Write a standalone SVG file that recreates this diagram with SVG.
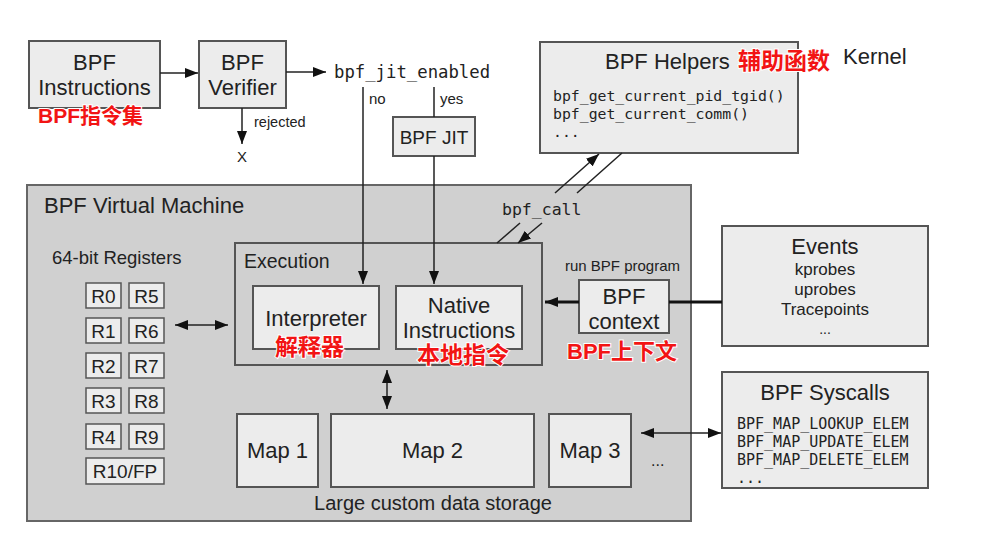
<svg xmlns="http://www.w3.org/2000/svg" width="984" height="554" viewBox="0 0 984 554">
<defs>
<marker id="ah" markerWidth="13" markerHeight="10" refX="13" refY="5" orient="auto-start-reverse" markerUnits="userSpaceOnUse">
<path d="M0,0 L13,5 L0,10 z" fill="#111"/>
</marker>
<style>
.box{fill:#ececec;stroke:#555;stroke-width:2}
.reg{fill:#ececec;stroke:#555;stroke-width:1.5}
.vm{fill:#d0d0d0;stroke:#666;stroke-width:2}
.t{font-family:"Liberation Sans",Arial,sans-serif;fill:#222}
.c{text-anchor:middle}
.m{font-family:"DejaVu Sans Mono","Liberation Mono",monospace;fill:#222}
.red{font-family:"Liberation Sans","Noto Sans CJK SC",sans-serif;fill:#f21414;font-weight:bold;stroke:#fff;stroke-width:2;paint-order:stroke}
.ln{stroke:#222;stroke-width:1.5;fill:none}
.thick{stroke:#111;stroke-width:3;fill:none}
.arr{marker-end:url(#ah)}
.dbl{marker-start:url(#ah);marker-end:url(#ah)}
</style>
</defs>
<rect width="984" height="554" fill="#fff"/>

<g id="vm">
<rect class="vm" x="27" y="185" width="664" height="336"/>
<text class="t" x="44" y="213" font-size="22">BPF Virtual Machine</text>
<text class="t" x="433" y="510" font-size="20" text-anchor="middle">Large custom data storage</text>
</g>

<g id="instructions">
<rect class="box" x="29" y="41" width="131" height="67"/>
<text class="t c" x="94.5" y="70" font-size="22">BPF</text>
<text class="t c" x="94.5" y="95" font-size="22">Instructions</text>
<text class="red" x="38" y="123" font-size="21">BPF指令集</text>
</g>

<g id="verifier">
<rect class="box" x="199" y="41" width="87" height="67"/>
<text class="t c" x="242.5" y="70" font-size="22">BPF</text>
<text class="t c" x="242.5" y="95" font-size="22">Verifier</text>
</g>

<g id="jit-enabled">
<text class="m" x="334" y="78" font-size="17.3">bpf_jit_enabled</text>
</g>

<g id="reject">
<text class="t c" x="242" y="162" font-size="15">X</text>
</g>

<g id="jit">
<rect class="box" x="393" y="117" width="82" height="39"/>
<text class="t c" x="434" y="144" font-size="19">BPF JIT</text>
</g>

<g id="helpers">
<rect class="box" x="540" y="42" width="258" height="111"/>
<text class="t" x="605" y="69" font-size="22">BPF Helpers</text>
<text class="red" x="738" y="69" font-size="23">辅助函数</text>
<text class="m" x="553" y="101" font-size="14.8">bpf_get_current_pid_tgid()</text>
<text class="m" x="553" y="119" font-size="14.8">bpf_get_current_comm()</text>
<text class="m" x="553" y="137" font-size="14.8">...</text>
</g>

<g id="kernel">
<text class="t" x="843" y="64" font-size="22">Kernel</text>
</g>

<g id="registers">
<text class="t" x="52" y="264" font-size="18.5">64-bit Registers</text>
<rect class="reg" x="86" y="283" width="35" height="25"/>
<text class="t c" x="103.5" y="303" font-size="19">R0</text>
<rect class="reg" x="129" y="283" width="35" height="25"/>
<text class="t c" x="146.5" y="303" font-size="19">R5</text>
<rect class="reg" x="86" y="318" width="35" height="25"/>
<text class="t c" x="103.5" y="338" font-size="19">R1</text>
<rect class="reg" x="129" y="318" width="35" height="25"/>
<text class="t c" x="146.5" y="338" font-size="19">R6</text>
<rect class="reg" x="86" y="353" width="35" height="25"/>
<text class="t c" x="103.5" y="373" font-size="19">R2</text>
<rect class="reg" x="129" y="353" width="35" height="25"/>
<text class="t c" x="146.5" y="373" font-size="19">R7</text>
<rect class="reg" x="86" y="388" width="35" height="25"/>
<text class="t c" x="103.5" y="408" font-size="19">R3</text>
<rect class="reg" x="129" y="388" width="35" height="25"/>
<text class="t c" x="146.5" y="408" font-size="19">R8</text>
<rect class="reg" x="86" y="424" width="35" height="25"/>
<text class="t c" x="103.5" y="444" font-size="19">R4</text>
<rect class="reg" x="129" y="424" width="35" height="25"/>
<text class="t c" x="146.5" y="444" font-size="19">R9</text>
<rect class="reg" x="86" y="458" width="78" height="26"/>
<text class="t c" x="125" y="478" font-size="19">R10/FP</text>
</g>

<g id="execution">
<rect x="235" y="243" width="307" height="122" fill="none" stroke="#555" stroke-width="2"/>
<text class="t" x="244" y="268" font-size="19.5">Execution</text>
</g>

<g id="interpreter">
<rect class="box" x="253" y="286" width="126" height="63"/>
<text class="t c" x="316" y="326" font-size="22">Interpreter</text>
<text class="red" x="275" y="355" font-size="23">解释器</text>
</g>

<g id="native">
<rect class="box" x="396" y="286" width="126" height="63"/>
<text class="t c" x="459" y="313" font-size="22">Native</text>
<text class="t c" x="459" y="338" font-size="22">Instructions</text>
<text class="red" x="417" y="363" font-size="23">本地指令</text>
</g>

<g id="context">
<text class="t" x="565" y="271" font-size="15">run BPF program</text>
<rect class="box" x="579" y="280" width="90" height="53"/>
<text class="t c" x="624" y="304" font-size="22">BPF</text>
<text class="t c" x="624" y="329" font-size="22">context</text>
<text class="red" x="567" y="359" font-size="22">BPF上下文</text>
</g>

<g id="events">
<rect class="box" x="722" y="226" width="206" height="120"/>
<text class="t c" x="825" y="254" font-size="22">Events</text>
<text class="t c" x="825" y="275" font-size="17">kprobes</text>
<text class="t c" x="825" y="295" font-size="17">uprobes</text>
<text class="t c" x="825" y="315" font-size="17">Tracepoints</text>
<text class="t c" x="825" y="334" font-size="14">...</text>
</g>

<g id="syscalls">
<rect class="box" x="722" y="372" width="206" height="116"/>
<text class="t c" x="825" y="400" font-size="22">BPF Syscalls</text>
<text class="m" x="737" y="429" font-size="15" fill="#333">BPF_MAP_LOOKUP_ELEM</text>
<text class="m" x="737" y="447" font-size="15" fill="#333">BPF_MAP_UPDATE_ELEM</text>
<text class="m" x="737" y="465" font-size="15" fill="#333">BPF_MAP_DELETE_ELEM</text>
<text class="m" x="737" y="483" font-size="15">...</text>
</g>

<g id="maps">
<rect class="box" x="237" y="414" width="81" height="73"/>
<text class="t c" x="277.5" y="458" font-size="22">Map 1</text>
<rect class="box" x="331" y="414" width="203" height="73"/>
<text class="t c" x="432.5" y="458" font-size="22">Map 2</text>
<rect class="box" x="549" y="414" width="82" height="73"/>
<text class="t c" x="590" y="458" font-size="22">Map 3</text>
<text class="t" x="651" y="466" font-size="16">...</text>
</g>

<g id="connectors">
<line class="ln arr" x1="160" y1="73" x2="198" y2="73"/>
<line class="ln arr" x1="286" y1="72" x2="326" y2="72"/>
<line class="ln arr" x1="242" y1="108" x2="242" y2="144"/>
<text class="t" x="254" y="127" font-size="14.5">rejected</text>
<line class="ln arr" x1="363" y1="87" x2="363" y2="284"/>
<text class="t" x="369" y="104" font-size="15">no</text>
<line class="ln" x1="434" y1="87" x2="434" y2="117"/>
<text class="t" x="440" y="104" font-size="15">yes</text>
<line class="ln arr" x1="434" y1="156" x2="434" y2="284"/>
<line class="ln" x1="497" y1="243" x2="520" y2="223"/>
<line class="ln arr" x1="555" y1="193" x2="599" y2="154"/>
<line class="ln" x1="622" y1="153" x2="577" y2="193"/>
<line class="ln arr" x1="542" y1="223" x2="518" y2="243"/>
<text class="m" x="502" y="215" font-size="16.5">bpf_call</text>
<line class="ln dbl" x1="175" y1="325" x2="228" y2="325"/>
<line class="ln dbl" x1="387" y1="370" x2="387" y2="409"/>
<line class="thick arr" x1="579" y1="302" x2="545" y2="302"/>
<line class="thick" x1="669" y1="302" x2="722" y2="302"/>
<line class="ln dbl" x1="641" y1="433" x2="721" y2="433"/>
</g>
</svg>
